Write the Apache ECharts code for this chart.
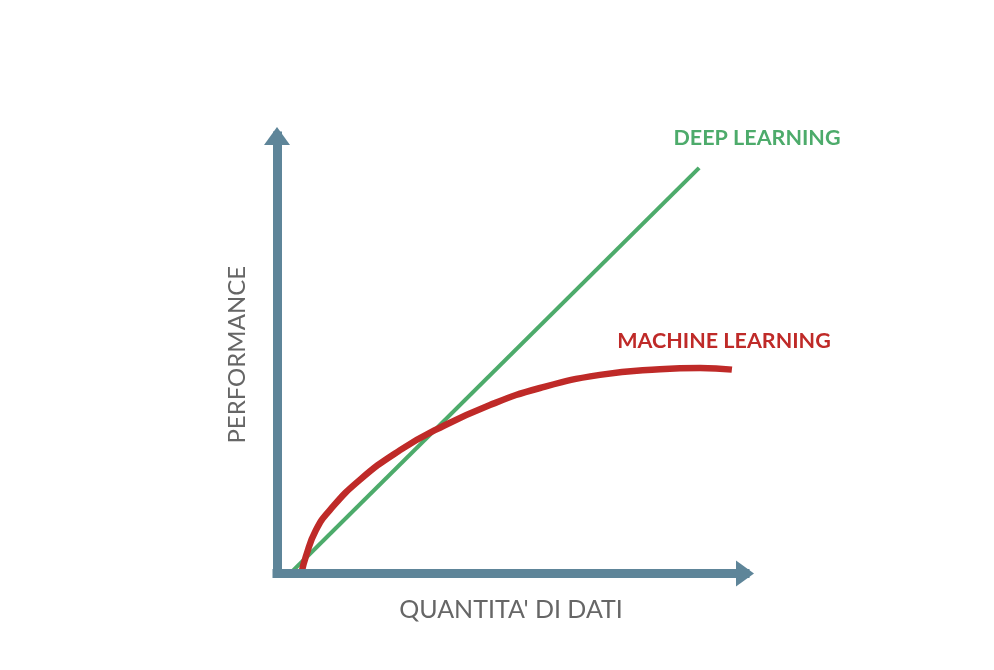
<!DOCTYPE html>
<html>
<head>
<meta charset="utf-8">
<script src="https://cdn.jsdelivr.net/npm/echarts@6/dist/echarts.min.js"></script>
<style>
  html, body { margin: 0; padding: 0; background: #fff; }
  #chart { width: 994px; height: 670px; }
</style>
</head>
<body>
<div id="chart"></div>
<script>
// curve points, [quantity, performance] on a 0..100 scale
var deepLearning = [[2.8, 0], [90.2, 92.7]];
var machineLearning = [
  [5.2, 0], [6.2, 4.0], [8.3, 9.9], [11.3, 14.5], [17.7, 21.4], [26.3, 28.2],
  [34.2, 33.0], [45.5, 38.5], [56.2, 42.4], [69.0, 45.4], [81.8, 46.7],
  [90.4, 47.0], [97.2, 46.6]
];
var seriesNames = ['DEEP LEARNING', 'MACHINE LEARNING'];
var xTitle = "QUANTITA' DI DATI";
var yTitle = 'PERFORMANCE';

var axisColor = '#5e8599';
var green = '#4dab6b';
var red = '#bf2a28';

var chart = echarts.init(document.getElementById('chart'));

function axisStyle() {
  return {
    show: true,
    symbol: ['none', 'triangle'],
    symbolSize: [26, 18],
    lineStyle: { color: axisColor, width: 9, cap: 'square' }
  };
}

var option = {
  backgroundColor: '#fff',
  animation: false,
  grid: { left: 277, right: 249, top: 136, bottom: 96.5 },
  xAxis: {
    type: 'value', min: 0, max: 100, z: 5,
    name: xTitle, nameLocation: 'middle', nameGap: 24,
    nameTextStyle: { fontFamily: 'Lato', fontSize: 25, color: '#666' },
    axisLine: axisStyle(),
    axisTick: { show: false }, axisLabel: { show: false }, splitLine: { show: false }
  },
  yAxis: {
    type: 'value', min: 0, max: 100, z: 5,
    name: yTitle, nameLocation: 'middle', nameGap: 28, nameRotate: 90,
    nameTextStyle: { fontFamily: 'Lato', fontSize: 24, color: '#666' },
    axisLine: axisStyle(),
    axisTick: { show: false }, axisLabel: { show: false }, splitLine: { show: false }
  },
  series: [
    {
      name: seriesNames[0], type: 'line', data: deepLearning,
      symbol: 'none', lineStyle: { color: green, width: 4, cap: 'butt' }
    },
    {
      name: seriesNames[1], type: 'line', data: machineLearning,
      smooth: 0.5,
      symbol: 'none', lineStyle: { color: red, width: 6.5, cap: 'butt' }
    }
  ],
  graphic: [
    {
      type: 'text', x: 757, y: 138,
      style: { text: seriesNames[0], fill: green, font: 'bold 21.5px Lato', textAlign: 'center', textVerticalAlign: 'middle' }
    },
    {
      type: 'text', x: 724, y: 341,
      style: { text: seriesNames[1], fill: red, font: 'bold 21.5px Lato', textAlign: 'center', textVerticalAlign: 'middle' }
    }
  ]
};

chart.setOption(option);
</script>
</body>
</html>
